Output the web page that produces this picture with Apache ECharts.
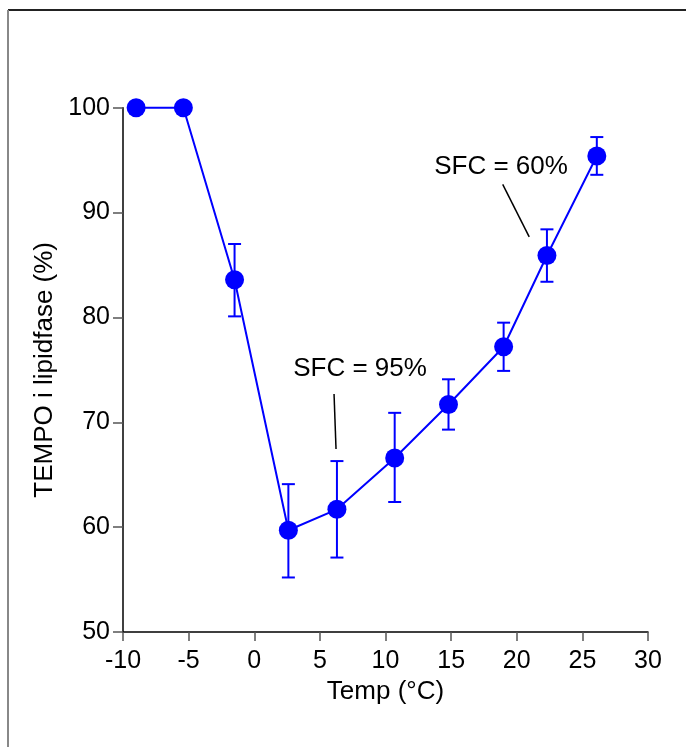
<!DOCTYPE html>
<html>
<head>
<meta charset="utf-8">
<style>html,body{margin:0;padding:0;background:#fff;}#chart{width:686px;height:747px;}</style>
<script src="https://cdn.jsdelivr.net/npm/echarts@6/dist/echarts.min.js"></script>
</head>
<body>
<div id="chart"></div>
<script>
const temps = [-9.0, -5.4, -1.5, 2.6, 6.3, 10.7, 14.8, 19.0, 22.3, 26.1];
const tempo = [100, 100, 83.6, 59.7, 61.7, 66.6, 71.7, 77.2, 85.9, 95.4];
const errLow = [null, null, 80.1, 55.2, 57.1, 62.4, 69.3, 74.9, 83.4, 93.6];
const errHigh = [null, null, 87.0, 64.1, 66.3, 70.9, 74.1, 79.5, 88.4, 97.2];
const xTicks = [-10, -5, 0, 5, 10, 15, 20, 25, 30];
const yTicks = [50, 60, 70, 80, 90, 100];
const annText = ['SFC = 95%', 'SFC = 60%'];
const annTextPos = [[8.06, 75.1], [18.8, 94.36]];
const annLineFrom = [[6.08, 72.7], [18.93, 92.68]];
const annLineTo = [[6.23, 67.45], [20.95, 87.68]];

const FONT = 'Liberation Sans, Arial, Helvetica, sans-serif';
const BLUE = '#0000ff';

const chart = echarts.init(document.getElementById('chart'), null, {renderer: 'canvas'});

const errData = temps.map((t, i) => [t, errLow[i], errHigh[i]]).filter(d => d[1] != null);
const annData = annText.map((s, i) => [annTextPos[i][0], annTextPos[i][1], annLineFrom[i][0], annLineFrom[i][1], annLineTo[i][0], annLineTo[i][1], s]);

chart.setOption({
  animation: false,
  backgroundColor: '#fff',
  grid: {left: 123, right: 38, top: 107.7, bottom: 115, containLabel: false},
  xAxis: {
    type: 'value', min: -10, max: 30, interval: 5,
    name: 'Temp (°C)', nameLocation: 'middle', nameGap: 45,
    nameTextStyle: {fontFamily: FONT, fontSize: 26, color: '#000'},
    axisLine: {show: true, onZero: false, lineStyle: {color: '#000', width: 1.5}},
    axisTick: {show: true, length: 9, lineStyle: {color: '#555', width: 1.5}},
    axisLabel: {fontFamily: FONT, fontSize: 25, color: '#000', margin: 17,
      formatter: v => xTicks.includes(v) ? String(v) : ''},
    splitLine: {show: false}
  },
  yAxis: {
    type: 'value', min: 50, max: 100, interval: 10,
    name: 'TEMPO i lipidfase (%)', nameLocation: 'middle', nameGap: 64,
    nameTextStyle: {fontFamily: FONT, fontSize: 26, color: '#000'},
    axisLine: {show: true, onZero: false, lineStyle: {color: '#000', width: 1.5}},
    axisTick: {show: true, length: 10, lineStyle: {color: '#555', width: 1.5}},
    axisLabel: {fontFamily: FONT, fontSize: 25, color: '#000', margin: 13,
      formatter: v => yTicks.includes(v) ? String(v) : ''},
    splitLine: {show: false}
  },
  graphic: [
    {type: 'line', shape: {x1: 8, y1: 10, x2: 686, y2: 10}, style: {stroke: '#222', lineWidth: 1.8}, silent: true},
    {type: 'line', shape: {x1: 8, y1: 10, x2: 8, y2: 747}, style: {stroke: '#888', lineWidth: 2}, silent: true}
  ],
  series: [
    {
      type: 'custom',
      z: 2,
      data: errData,
      renderItem: (params, api) => {
        const x = api.value(0);
        const lo = api.coord([x, api.value(1)]);
        const hi = api.coord([x, api.value(2)]);
        const hw = 6.5;
        const st = {stroke: BLUE, lineWidth: 2};
        return {type: 'group', children: [
          {type: 'line', shape: {x1: lo[0], y1: lo[1], x2: hi[0], y2: hi[1]}, style: st},
          {type: 'line', shape: {x1: lo[0]-hw, y1: lo[1], x2: lo[0]+hw, y2: lo[1]}, style: st},
          {type: 'line', shape: {x1: hi[0]-hw, y1: hi[1], x2: hi[0]+hw, y2: hi[1]}, style: st}
        ]};
      }
    },
    {
      type: 'line',
      z: 3,
      data: temps.map((t, i) => [t, tempo[i]]),
      symbol: 'circle', symbolSize: 19,
      lineStyle: {color: BLUE, width: 2},
      itemStyle: {color: BLUE},
      clip: false
    },
    {
      type: 'custom',
      z: 4,
      data: annData,
      renderItem: (params, api) => {
        const p = api.coord([api.value(0), api.value(1)]);
        const a = api.coord([api.value(2), api.value(3)]);
        const b = api.coord([api.value(4), api.value(5)]);
        const label = annText[params.dataIndex];
        return {type: 'group', children: [
          {type: 'text', x: p[0], y: p[1], style: {text: label, fontFamily: FONT, fontSize: 26, fill: '#000', align: 'center', verticalAlign: 'middle'}},
          {type: 'line', shape: {x1: a[0], y1: a[1], x2: b[0], y2: b[1]}, style: {stroke: '#000', lineWidth: 1.5}}
        ]};
      }
    }
  ]
});
</script>
</body>
</html>
